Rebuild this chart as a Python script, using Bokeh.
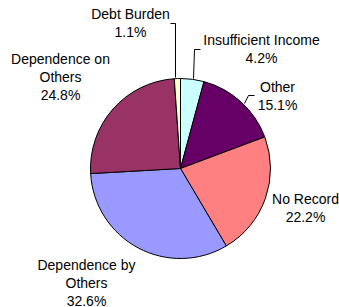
import math
from bokeh.plotting import figure
from bokeh.models import Range1d, ColumnDataSource
from bokeh.core.properties import value
from bokeh.embed import file_html
from bokeh.resources import INLINE

# ---- data (clockwise from 12 o'clock) ----
categories = ["Insufficient Income", "Other", "No Record",
              "Dependence by Others", "Dependence on Others", "Debt Burden"]
shares = [4.2, 15.1, 22.2, 32.6, 24.8, 1.1]
label_lines = [["Insufficient Income", "4.2%"],
               ["Other", "15.1%"],
               ["No Record", "22.2%"],
               ["Dependence by", "Others", "32.6%"],
               ["Dependence on", "Others", "24.8%"],
               ["Debt Burden", "1.1%"]]
colors = ["#CCFFFF", "#660066", "#FF8080", "#9999FF", "#993366", "#FFFFCC"]

# ---- layout (picture pixel coordinates) ----
W, H = 339, 307
CX, CY, R = 180, 168, 90
label_pos = [(261, 39), (277, 86), (305, 198), (86, 264), (60, 58), (130, 13)]
LINE_H = 18.0
leaders = {
    0: [(200, 49), (194, 49), (193, 78)],
    1: [(254, 95), (248, 95), (244, 103)],
    5: [(170, 23), (175, 23), (175, 77)],
}

def py(sy):
    return H - sy

p = figure(width=W, height=H, output_backend="svg", toolbar_location=None,
           x_range=Range1d(0, W), y_range=Range1d(0, H),
           min_border=0, min_border_left=0, min_border_right=0,
           min_border_top=0, min_border_bottom=0)
p.axis.visible = False
p.grid.visible = False
p.outline_line_color = None
p.background_fill_color = "white"
p.border_fill_color = "white"

total = sum(shares)
starts, ends = [], []
cum = 0.0
for s in shares:
    a0 = math.pi / 2 - cum / total * 2 * math.pi
    cum += s
    a1 = math.pi / 2 - cum / total * 2 * math.pi
    starts.append(a0)
    ends.append(a1)

src = ColumnDataSource(dict(start=starts, end=ends, color=colors, cat=categories))
p.wedge(x=CX, y=py(CY), radius=R, start_angle="start", end_angle="end",
        direction="clock", fill_color="color", line_color="black",
        line_width=1, source=src)

for i, pts in leaders.items():
    p.line([q[0] for q in pts], [py(q[1]) for q in pts],
           line_color="black", line_width=1)

tx, ty, tt = [], [], []
for (x0, y0), lines in zip(label_pos, label_lines):
    for k, t in enumerate(lines):
        tx.append(x0)
        ty.append(py(y0 + k * LINE_H))
        tt.append(t)
p.text(x=tx, y=ty, text=tt, text_align="center", text_baseline="middle",
       text_font=value("Liberation Sans"), text_font_size="14px",
       text_color="black")

open("out.html", "w").write(file_html(p, INLINE))
